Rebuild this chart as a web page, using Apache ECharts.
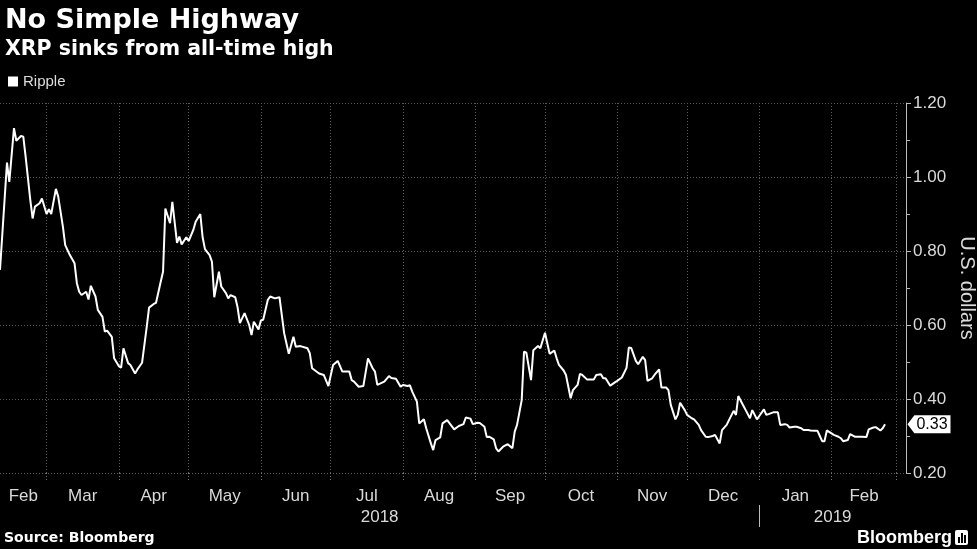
<!DOCTYPE html>
<html><head><meta charset="utf-8">
<script src="https://cdn.jsdelivr.net/npm/echarts@6/dist/echarts.min.js"></script>
<style>html,body{margin:0;padding:0;background:#000;}#c{width:977px;height:549px;}</style>
</head><body><div id="c"></div>
<script>
const titleText = 'No Simple Highway';
const subtitleText = 'XRP sinks from all-time high';
const seriesName = 'Ripple';
const startDate = '2018-02-09';
const endDate = '2019-03-05';
// days since startDate
const dayOffsets = [0,3,4,6,7,9,10,11,13,14,15,17,18,20,21,22,24,25,27,28,30,32,33,34,35,37,38,39,41,42,44,45,46,48,49,51,52,53,55,56,58,59,61,63,64,66,67,69,70,71,73,74,76,77,78,80,81,83,84,86,87,88,90,91,92,94,95,97,98,99,101,102,103,105,107,108,109,111,112,113,115,116,118,120,122,123,124,126,127,129,132,133,134,137,139,141,143,145,147,150,151,152,154,156,158,160,161,162,165,167,168,170,172,173,175,176,177,179,180,182,183,185,186,187,189,190,192,195,197,199,200,202,203,205,206,208,209,210,212,213,214,216,218,220,221,222,224,225,226,228,229,231,232,234,235,236,238,239,240,242,243,245,246,248,249,250,252,255,256,258,259,260,262,264,265,267,269,270,271,273,274,276,277,278,280,281,283,284,286,287,288,290,291,292,294,295,297,298,300,301,303,304,306,307,308,309,310,312,313,315,316,317,319,320,322,323,325,326,328,329,330,332,334,335,337,338,339,341,342,344,345,347,348,350,351,352,353,354,355,357,358,360,361,362,364,365,367,368,370,372,373,375,376,378,379,380];
const prices = [0.749,1.039,0.987,1.132,1.098,1.111,1.109,1.055,0.938,0.888,0.920,0.929,0.942,0.900,0.913,0.900,0.968,0.947,0.866,0.816,0.789,0.767,0.713,0.690,0.681,0.690,0.669,0.706,0.677,0.641,0.622,0.582,0.585,0.568,0.510,0.489,0.485,0.537,0.497,0.492,0.469,0.480,0.498,0.595,0.647,0.657,0.660,0.717,0.744,0.915,0.875,0.933,0.822,0.839,0.818,0.837,0.827,0.857,0.879,0.900,0.837,0.805,0.789,0.771,0.675,0.744,0.704,0.686,0.672,0.681,0.675,0.648,0.605,0.632,0.600,0.573,0.609,0.588,0.612,0.614,0.668,0.677,0.672,0.675,0.578,0.550,0.522,0.568,0.541,0.543,0.537,0.524,0.483,0.469,0.465,0.435,0.492,0.503,0.474,0.474,0.451,0.447,0.433,0.435,0.510,0.483,0.474,0.438,0.447,0.462,0.457,0.455,0.433,0.438,0.435,0.437,0.420,0.393,0.334,0.345,0.321,0.280,0.262,0.289,0.296,0.334,0.343,0.318,0.327,0.332,0.350,0.347,0.332,0.336,0.335,0.325,0.297,0.298,0.291,0.267,0.258,0.271,0.278,0.267,0.312,0.330,0.397,0.528,0.525,0.451,0.532,0.543,0.537,0.579,0.550,0.522,0.531,0.510,0.492,0.477,0.465,0.402,0.424,0.438,0.468,0.465,0.453,0.453,0.465,0.467,0.456,0.456,0.436,0.445,0.449,0.458,0.484,0.539,0.538,0.503,0.494,0.514,0.505,0.449,0.456,0.465,0.480,0.431,0.431,0.424,0.384,0.345,0.357,0.390,0.370,0.357,0.348,0.345,0.330,0.316,0.298,0.297,0.300,0.303,0.291,0.280,0.316,0.330,0.343,0.368,0.357,0.408,0.384,0.372,0.348,0.370,0.345,0.354,0.372,0.357,0.359,0.364,0.364,0.330,0.332,0.330,0.323,0.325,0.325,0.321,0.316,0.316,0.315,0.314,0.314,0.300,0.286,0.286,0.315,0.307,0.303,0.298,0.294,0.286,0.289,0.305,0.298,0.298,0.298,0.297,0.318,0.323,0.324,0.315,0.321,0.332];
const monthStarts = ['2018-02-01','2018-03-01','2018-04-01','2018-05-01','2018-06-01','2018-07-01','2018-08-01','2018-09-01','2018-10-01','2018-11-01','2018-12-01','2019-01-01','2019-02-01','2019-03-01'];
const monthLabels = ['Feb','Mar','Apr','May','Jun','Jul','Aug','Sep','Oct','Nov','Dec','Jan','Feb'];
const yearStarts = ['2018-01-01','2019-01-01','2020-01-01'];
const yearLabels = ['2018','2019'];
const yMin = 0.2, yMax = 1.2, yStep = 0.2;

const DAY = 86400000;
const t = s => { const p = s.split('-').map(Number); return Date.UTC(p[0], p[1]-1, p[2]); };
const xMin = t(startDate), xMax = t(endDate);
const data = dayOffsets.map((d, i) => [xMin + d * DAY, prices[i]]);
const lastPrice = prices[prices.length - 1];

function mids(starts, n) {
  const out = [];
  for (let i = 0; i < n; i++) {
    const a = Math.max(t(starts[i]), xMin), b = Math.min(t(starts[i + 1]), xMax);
    out.push((a + b) / 2);
  }
  return out;
}
const monthMids = mids(monthStarts, monthLabels.length);
const yearMids = mids(yearStarts, yearLabels.length);
const gridTimes = monthStarts.map(t).filter(v => v > xMin && v < xMax);
const yearBounds = yearStarts.map(t).filter(v => v > xMin && v < xMax);
function nearestLabel(v, pos, labels) {
  let bi = 0, bd = Infinity;
  pos.forEach((p, i) => { const d = Math.abs(p - v); if (d < bd) { bd = d; bi = i; } });
  return labels[bi];
}

const FONT = 'Liberation Sans';
const GRID = '#5a5a5a';
const chart = echarts.init(document.getElementById('c'), null, { renderer: 'canvas' });
chart.setOption({
  backgroundColor: '#000',
  animation: false,
  title: {
    text: titleText, subtext: subtitleText, left: 0, top: 2, itemGap: 5,
    textStyle: { color: '#fff', fontFamily: 'DejaVu Sans', fontWeight: 'bold', fontSize: 27 },
    subtextStyle: { color: '#fff', fontFamily: 'DejaVu Sans', fontWeight: 'bold', fontSize: 20.5 }
  },
  legend: {
    left: 3, top: 69, icon: 'rect', itemWidth: 10, itemHeight: 10, data: [seriesName],
    textStyle: { color: '#ddd', fontFamily: FONT, fontSize: 15 }
  },
  grid: { left: 0, right: 71, top: 103, bottom: 76, containLabel: false, outerBoundsMode: 'none' },
  xAxis: [
    { type: 'value', min: xMin, max: xMax, scale: true,
      axisLine: { show: false }, axisLabel: { show: false },
      axisTick: { show: true, customValues: gridTimes, length: 9, lineStyle: { color: '#777', type: [1, 2] } },
      splitLine: { show: true, lineStyle: { color: GRID, type: [1, 2] } } },
    { type: 'value', min: xMin, max: xMax, scale: true, position: 'bottom',
      axisLine: { show: false }, axisTick: { show: false }, splitLine: { show: false },
      axisLabel: { customValues: monthMids, formatter: v => nearestLabel(v, monthMids, monthLabels),
        color: '#d9d9d9', fontSize: 17, fontFamily: FONT, margin: 15 } },
    { type: 'value', min: xMin, max: xMax, scale: true, position: 'bottom', offset: 32,
      axisLine: { show: false }, splitLine: { show: false },
      axisTick: { show: true, customValues: yearBounds, length: 22, lineStyle: { color: '#bbb' } },
      axisLabel: { customValues: yearMids, formatter: v => nearestLabel(v, yearMids, yearLabels),
        color: '#d9d9d9', fontSize: 17, fontFamily: FONT, margin: 4 } }
  ],
  yAxis: {
    type: 'value', position: 'right', min: yMin, max: yMax, interval: yStep,
    axisLine: { show: true, lineStyle: { color: '#bbb' } },
    axisTick: { show: true, length: 5, lineStyle: { color: '#bbb' } },
    minorTick: { show: true, splitNumber: 2, length: 4, lineStyle: { color: '#bbb' } },
    axisLabel: { color: '#d9d9d9', fontSize: 17, fontFamily: FONT, margin: 7, formatter: v => v.toFixed(2) },
    splitLine: { show: true, lineStyle: { color: GRID, type: [1, 2] } },
    name: 'U.S. dollars', nameLocation: 'middle', nameRotate: -90, nameGap: 45,
    nameTextStyle: { color: '#d9d9d9', fontSize: 20, fontFamily: FONT }
  },
  series: [{
    name: seriesName, type: 'line', xAxisIndex: 0, data: data,
    showSymbol: false, symbol: 'none',
    lineStyle: { color: '#fff', width: 2 }, itemStyle: { color: '#fff' },
    markPoint: {
      silent: true,
      symbol: 'path://M0,9L8,0L50,0L50,18L8,18Z', symbolSize: [43, 18], symbolKeepAspect: false,
      symbolOffset: [23, 0],
      itemStyle: { color: '#fff' },
      label: { show: true, position: 'inside', color: '#000', fontSize: 16, fontFamily: FONT,
        offset: [3, 0], formatter: p => Number(p.value).toFixed(2) },
      data: [{ coord: [xMax, lastPrice], value: lastPrice }]
    }
  }],
  graphic: [
    { type: 'text', left: 4, top: 531, style: { text: 'Source: Bloomberg', fill: '#fff', font: 'bold 14px "DejaVu Sans"' } },
    { type: 'text', left: 857, top: 529, style: { text: 'Bloomberg', fill: '#fff', font: 'bold 18px "Liberation Sans"' } },
    { type: 'group', left: 955, top: 530, children: [
      { type: 'rect', shape: { x: 0, y: 0, width: 13, height: 15, r: 2 }, style: { fill: '#fff' } },
      { type: 'rect', shape: { x: 3, y: 7, width: 2, height: 6 }, style: { fill: '#000' } },
      { type: 'rect', shape: { x: 6, y: 3, width: 2, height: 10 }, style: { fill: '#000' } },
      { type: 'rect', shape: { x: 9, y: 5, width: 2, height: 8 }, style: { fill: '#000' } }
    ] }
  ]
});
</script></body></html>
